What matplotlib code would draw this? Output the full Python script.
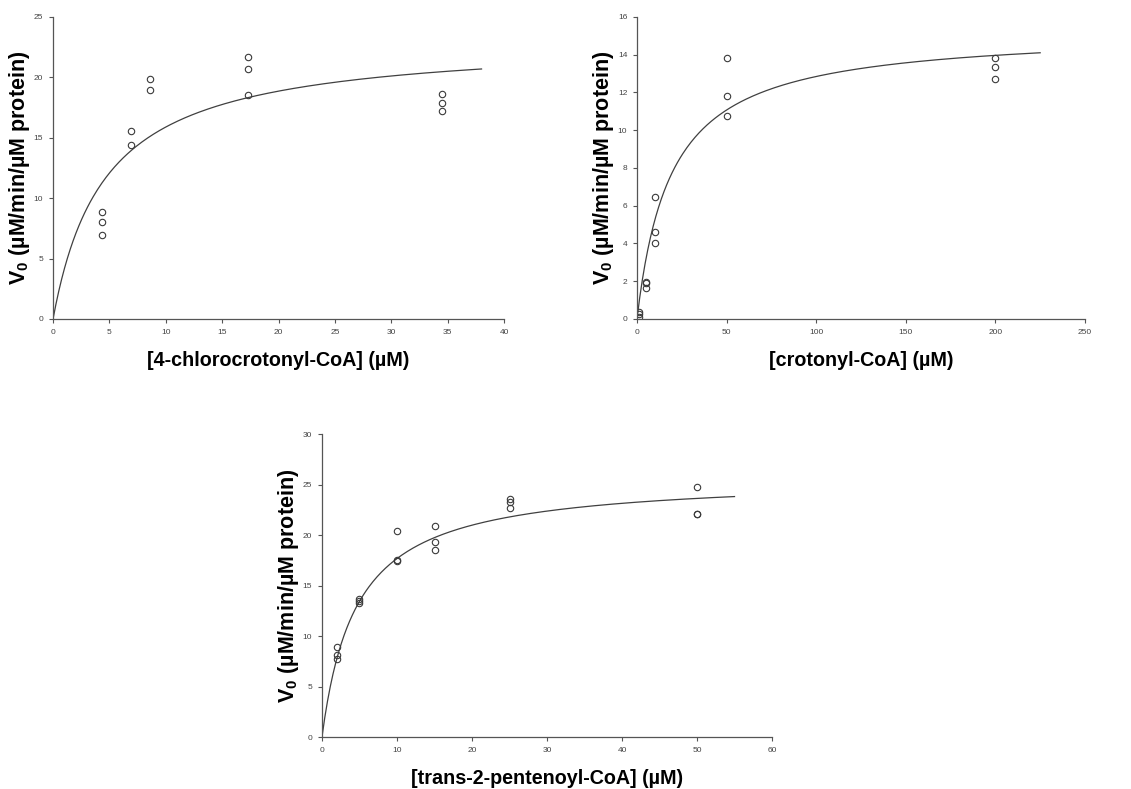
"""
Michaelis-Menten plots for three acyl-CoA substrates (three panels).
"""

import numpy as np
import matplotlib
matplotlib.use("Agg")
import matplotlib.pyplot as plt

plt.rcParams["font.family"] = ["Liberation Sans", "DejaVu Sans"]
plt.rcParams["mathtext.fontset"] = "custom"
plt.rcParams["mathtext.rm"] = "Liberation Sans:bold"

# --- data ---
chloro_x = [4.3, 4.3, 4.3, 6.9, 6.9, 8.6, 8.6, 17.3, 17.3, 17.3, 34.5, 34.5, 34.5]
chloro_v = [8.87, 8.01, 6.94, 15.58, 14.4, 19.9, 18.97, 21.7, 20.7, 18.53, 18.64, 17.84, 17.2]
chloro_vmax, chloro_km, chloro_xend = 23.2, 4.6, 38

croton_x = [1, 1, 1, 5, 5, 5, 10, 10, 10, 50, 50, 50, 200, 200, 200]
croton_v = [0.35, 0.25, 0.12, 1.96, 1.9, 1.62, 6.48, 4.63, 4.0, 13.8, 11.79, 10.77, 13.8, 13.34, 12.69]
croton_vmax, croton_km, croton_xend = 15.3, 19.1, 225

pent_x = [2, 2, 2, 5, 5, 5, 10, 10, 10, 15, 15, 15, 25, 25, 25, 50, 50, 50]
pent_v = [8.92, 8.16, 7.73, 13.71, 13.51, 13.25, 20.38, 17.48, 17.42,
          20.94, 19.29, 18.5, 23.55, 23.26, 22.66, 24.71, 22.1, 22.05]
pent_vmax, pent_km, pent_xend = 25.8, 4.6, 55

YLABEL = r"V$_{0}$ (µM/min/µM protein)"


def panel(ax, x, v, vmax, km, xend, xmax, xstep, ymax, ystep, xlabel):
    s = np.linspace(0, xend, 300)
    ax.plot(s, vmax * s / (km + s), color="#404040", lw=0.9)
    ax.plot(x, v, "o", ms=4.6, mfc="none", mec="#3a3a3a", mew=0.8)
    ax.set_xlim(0, xmax)
    ax.set_ylim(0, ymax)
    ax.set_xticks(np.arange(0, xmax + 0.01, xstep))
    ax.set_yticks(np.arange(0, ymax + 0.01, ystep))
    for side in ("top", "right"):
        ax.spines[side].set_visible(False)
    for side in ("left", "bottom"):
        ax.spines[side].set_color("#555555")
        ax.spines[side].set_linewidth(0.9)
    ax.tick_params(length=3, width=0.8, color="#555555", labelsize=6,
                   labelcolor="#444444", pad=4)
    ax.set_xlabel(xlabel, fontsize=14.2, fontweight="bold", labelpad=11)
    ax.set_ylabel(YLABEL, fontsize=15.5, fontweight="bold", labelpad=1)


fig = plt.figure(figsize=(11.31, 7.89), dpi=100)

ax1 = fig.add_axes([0.0469, 0.5957, 0.3988, 0.3828])
panel(ax1, chloro_x, chloro_v, chloro_vmax, chloro_km, chloro_xend,
      40, 5, 25, 5, "[4-chlorocrotonyl-CoA] (µM)")

ax2 = fig.add_axes([0.5632, 0.5957, 0.3961, 0.3828])
panel(ax2, croton_x, croton_v, croton_vmax, croton_km, croton_xend,
      250, 50, 16, 2, "[crotonyl-CoA] (µM)")

ax3 = fig.add_axes([0.2847, 0.0659, 0.3979, 0.384])
panel(ax3, pent_x, pent_v, pent_vmax, pent_km, pent_xend,
      60, 10, 30, 5, "[trans-2-pentenoyl-CoA] (µM)")

fig.savefig("out.png", dpi=100)
